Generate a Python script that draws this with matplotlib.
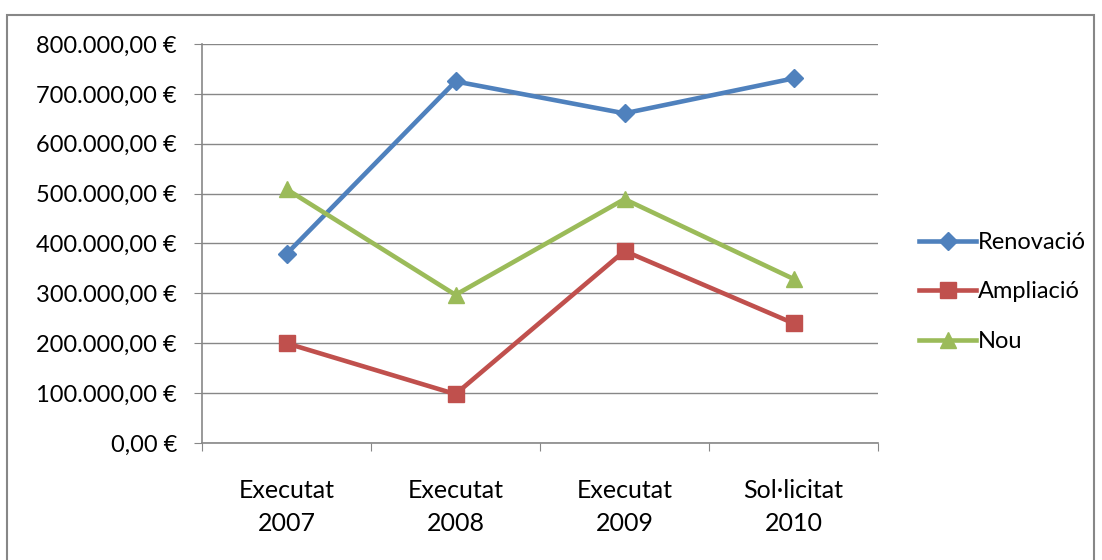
import matplotlib.pyplot as plt
from matplotlib.patches import Rectangle

categories = ["Executat\n2007", "Executat\n2008", "Executat\n2009", "Sol·licitat\n2010"]
renovacio = [379000, 725000, 661000, 731000]
ampliacio = [200000, 98000, 385000, 240000]
nou = [509000, 297000, 489000, 329000]

plt.rcParams["font.family"] = ["Lato", "DejaVu Sans"]

fig = plt.figure(figsize=(11.02, 5.6), dpi=100)
ax = fig.add_axes([202 / 1102, 1 - 443 / 560, 676 / 1102, 399 / 560])

# outer chart frame
fig.patches.append(Rectangle((7 / 1102, -0.01), 1087 / 1102, 1 - 15 / 560 + 0.01,
                             transform=fig.transFigure, fill=False,
                             edgecolor="#878787", linewidth=1.5))

X = [i + 0.5 for i in range(len(categories))]
ax.plot(X, renovacio, color="#4F81BD", lw=3.3, marker="D", ms=9, label="Renovació")
ax.plot(X, ampliacio, color="#C0504D", lw=3.3, marker="s", ms=11, label="Ampliació")
ax.plot(X, nou, color="#9BBB59", lw=3.3, marker="^", ms=12, label="Nou")

ax.set_xlim(0, 4)
ax.set_ylim(0, 800000)
ax.set_yticks(range(0, 800001, 100000))
ax.set_yticklabels([f"{v:,.2f} €".replace(",", "X").replace(".", ",").replace("X", ".")
                    for v in range(0, 800001, 100000)], fontsize=17)
ax.set_xticks([0, 1, 2, 3, 4])
ax.set_xticklabels([])
ax.set_xticks(X, minor=True)
ax.set_xticklabels(categories, minor=True, fontsize=18, linespacing=1.5)
ax.tick_params(axis="x", which="minor", length=0, pad=26)
ax.tick_params(axis="x", which="major", length=6, color="#878787")
ax.tick_params(axis="y", length=6, color="#878787", pad=12)

ax.grid(axis="y", color="#878787", lw=1)
ax.set_axisbelow(True)
for s in ["top", "right"]:
    ax.spines[s].set_visible(False)
for s in ["left", "bottom"]:
    ax.spines[s].set_color("#878787")
    ax.spines[s].set_linewidth(1.2)

fig.legend(loc="center left", bbox_to_anchor=(898 / 1102, 1 - 292 / 560), frameon=False,
           fontsize=17, handlelength=2.4, handletextpad=0.1, labelspacing=1.2)

fig.savefig("out.png", dpi=100)
